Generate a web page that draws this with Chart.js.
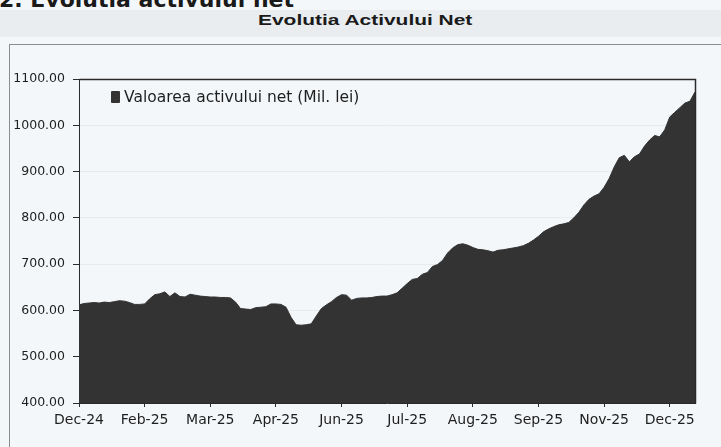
<!DOCTYPE html>
<html>
<head>
<meta charset="utf-8">
<script src="https://cdn.jsdelivr.net/npm/chart.js@4.4.1/dist/chart.umd.min.js"></script>
<style>
  html, body { margin: 0; padding: 0; }
  body { width: 721px; height: 447px; overflow: hidden; position: relative; background: #f4f7f9; font-family: "DejaVu Sans", sans-serif; }
  #band { position: absolute; left: 0; top: 10px; width: 721px; height: 27px; background: #e9edf0; }
  #header { position: absolute; left: -1px; top: -11px; font: bold 22px "DejaVu Sans"; color: #1a1a1a; white-space: nowrap; line-height: 22px; }
  #title { position: absolute; left: 258px; top: 11px; font: bold 15.5px "Liberation Sans"; color: #1a1a1a; white-space: nowrap; line-height: 17px; transform: scaleX(1.35); transform-origin: 0 0; }
  #box { position: absolute; left: 9px; top: 44px; width: 800px; height: 500px; border: 1px solid #8c8c8c; }
  #chartWrap { position: absolute; left: 0; top: 0; width: 721px; height: 447px; }
  #legend { position: absolute; left: 111px; top: 89px; font: 15.5px "DejaVu Sans"; color: #1e1e1e; white-space: nowrap; line-height: 16px; }
  #legend .sw { display: inline-block; width: 9px; height: 12px; background: #333333; border-radius: 1px; vertical-align: -1px; margin-right: 4px; }
</style>
</head>
<body>
<div id="band"></div>
<div id="header">2. Evolutia activului net</div>
<div id="title">Evolutia Activului Net</div>
<div id="box"></div>
<div id="chartWrap"><canvas id="c" width="721" height="447"></canvas></div>
<div id="legend"><span class="sw"></span>Valoarea activului net (Mil. lei)</div>
<script>
const seriesName = 'Valoarea activului net (Mil. lei)';
const tickLabels = ['Dec-24','Feb-25','Mar-25','Apr-25','Jun-25','Jul-25','Aug-25','Sep-25','Nov-25','Dec-25'];
const pointsPerTick = 13;
const netAssetValues = [
  612,615,616,617,616,618,617,619,621,620,617,613,613,614,
  625,634,636,640,630,638,630,629,635,633,631,630,629,
  629,628,628,627,
  618,604,603,602,606,607,608,614,614,613,607,585,569,568,569,571,588,604,612,619,628,634,633,622,626,
  627,627,628,630,631,631,634,638,
  648,658,667,669,678,682,695,699,708,724,735,742,744,741,736,732,731,729,726,730,731,733,735,737,740,745,752,
  760,770,776,781,785,787,790,800,812,828,840,847,852,866,885,910,930,935,921,932,938,955,968,978,975,990,1018,1028,1038,1048,1052,1072
];
const yMin = 400, yMax = 1100, yStep = 100;

const categories = netAssetValues.map((v, i) => (i % pointsPerTick === 0 && tickLabels[i / pointsPerTick]) ? tickLabels[i / pointsPerTick] : '');

const framePlugin = {
  id: 'frame',
  afterDatasetsDraw(chart) {
    const a = chart.chartArea, ctx = chart.ctx;
    ctx.save();
    ctx.strokeStyle = '#2a2a2a';
    ctx.lineWidth = 1.5;
    ctx.beginPath();
    ctx.moveTo(Math.round(a.left) + 0.5, Math.round(a.top) + 0.5);
    ctx.lineTo(Math.round(a.right) + 0.5, Math.round(a.top) + 0.5);
    ctx.lineTo(Math.round(a.right) + 0.5, Math.round(a.bottom) + 0.5);
    ctx.stroke();
    ctx.restore();
  }
};

new Chart(document.getElementById('c'), {
  type: 'line',
  data: {
    labels: categories,
    datasets: [{
      label: seriesName,
      data: netAssetValues,
      fill: 'start',
      backgroundColor: '#333333',
      borderColor: '#333333',
      borderWidth: 1,
      pointRadius: 0,
      tension: 0
    }]
  },
  options: {
    responsive: false,
    devicePixelRatio: 1,
    animation: false,
    layout: { padding: { left: 10, top: 79, right: 26, bottom: 14 } },
    plugins: {
      legend: { display: false },
      title: { display: false },
      tooltip: { enabled: false }
    },
    scales: {
      x: {
        offset: false,
        afterFit(s) { s.height = 30; },
        grid: { display: true, drawOnChartArea: false, drawTicks: true, tickLength: 4, tickColor: '#2a2a2a', color: '#2a2a2a' },
        border: { display: true, color: '#2a2a2a', width: 1 },
        ticks: {
          autoSkip: false, maxRotation: 0, minRotation: 0, padding: 5,
          color: '#1e1e1e', font: { family: 'DejaVu Sans', size: 14 },
          callback(value) { const l = this.getLabelForValue(value); return l === '' ? null : l; }
        }
      },
      y: {
        min: yMin, max: yMax,
        afterFit(s) { s.width = 69; },
        grid: { display: true, drawOnChartArea: true, color: '#e7ebee', tickLength: 6, tickColor: '#2a2a2a' },
        border: { display: true, color: '#2a2a2a', width: 1 },
        ticks: {
          stepSize: yStep, padding: 8,
          color: '#1e1e1e', font: { family: 'DejaVu Sans', size: 12.5 },
          callback(v) { return Number(v).toFixed(2); }
        }
      }
    }
  },
  plugins: [framePlugin]
});
</script>
</body>
</html>
